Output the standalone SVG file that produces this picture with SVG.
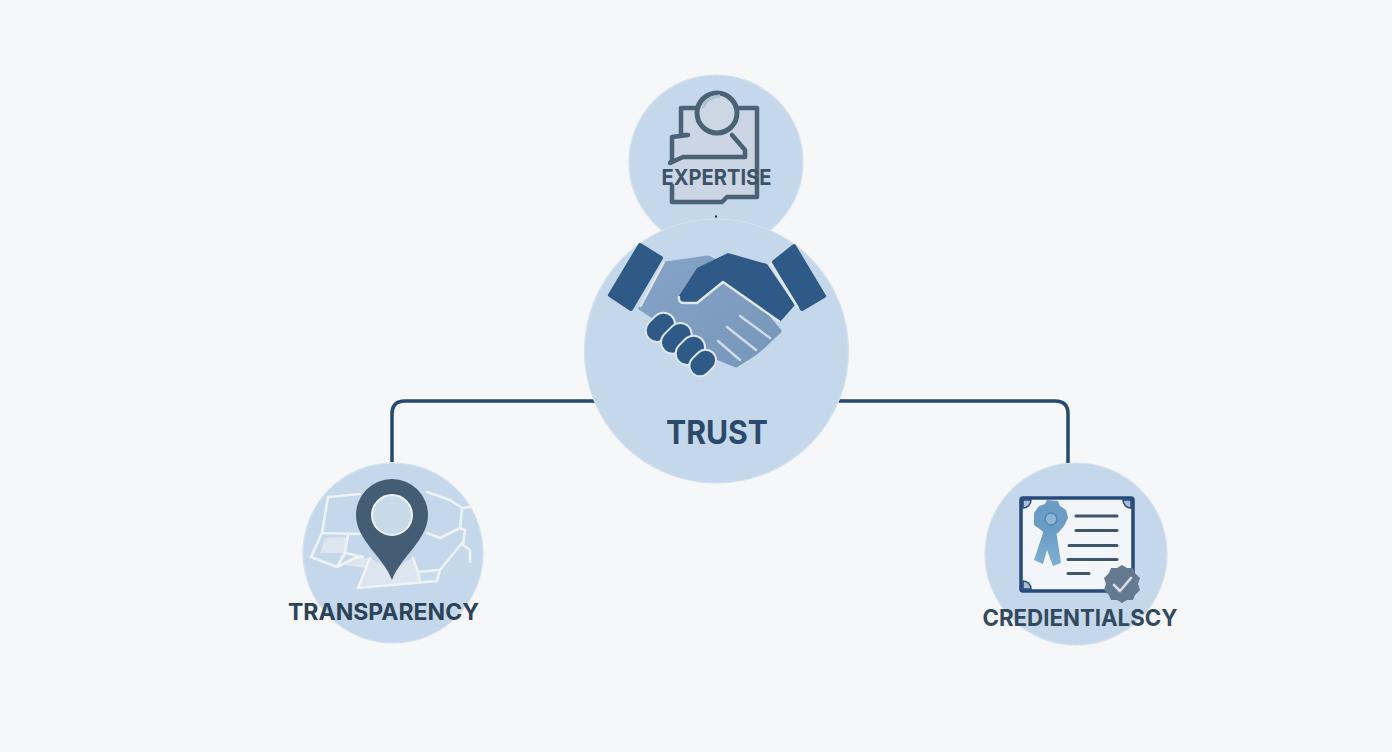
<svg xmlns="http://www.w3.org/2000/svg" width="1392" height="752" viewBox="0 0 1392 752">
<style>
.c{fill:#c5d7ea;stroke:#d3e0ed;stroke-width:1.2}
.t{font-family:Inter,"Liberation Sans",sans-serif;font-weight:700;text-anchor:middle}
.ic{fill:none;stroke:#4a6276;stroke-width:4.500;stroke-linecap:round;stroke-linejoin:round}
.m{fill:none;stroke:#eef3f8;stroke-width:2.600;stroke-linejoin:round;stroke-linecap:round}
.f{fill:#2f5a88;stroke:#dbe6f0;stroke-width:2}
.cuff{fill:#2f5a88;stroke:#2f5a88;stroke-width:4;stroke-linejoin:round}
.l{stroke:#3f556c;stroke-width:3;stroke-linecap:round}
</style>
<defs>
<linearGradient id="lh" x1="0" y1="0" x2="1" y2="1"><stop offset="0" stop-color="#85a3c6"/><stop offset="1" stop-color="#7797ba"/></linearGradient>
<linearGradient id="rb" x1="0" y1="0" x2="0" y2="1"><stop offset="0" stop-color="#6c9cc4"/><stop offset="1" stop-color="#7fb0d2"/></linearGradient>
</defs>
<rect width="1392" height="752" fill="#f6f7f9"/>
<g id="connectors" fill="none" stroke="#25496f" stroke-width="3.500">
<path d="M596,401H405Q392,401 392,414V462"/>
<path d="M838,401H1055Q1068,401 1068,414V463"/>
</g>
<g id="expertise">
<circle class="c" cx="716" cy="162" r="87"/>
<path d="M681,108H757V197H727L722,202H672V150L672,137L681,135Z" fill="#ccd5e3"/>
<path class="ic" d="M697,108H681V135H688L672,137V160L670,163L683,157H745V150L732,135"/>
<path class="ic" d="M738,108H757V197H727L722,202H672V186"/>
<circle cx="717" cy="113" r="20" fill="#cdd7e4" stroke="#4a6276" stroke-width="5"/>
<path d="M703,108Q706,97 720,96" fill="none" stroke="#a9c3d3" stroke-width="3"/>
<text class="t" x="716.500" y="185" font-size="22" textLength="110" lengthAdjust="spacingAndGlyphs" fill="#3b5268">EXPERTISE</text>
<rect x="715" y="215.500" width="2" height="2" fill="#1f2f40"/>
</g>
<g id="trust">
<circle class="c" cx="716.500" cy="351" r="132"/>
<path d="M666,264L708,258L724,266L779,331L762,347L752,355L736,365L714,356L641,308Z" fill="url(#lh)" stroke="url(#lh)" stroke-width="5" stroke-linejoin="round"/>
<path class="cuff" d="M640,245L661,258L631,309L610,295Z"/>
<path class="cuff" d="M794,246L824,296L802,309L774,262Z"/>
<path d="M728,253L767,264L795,305L780,322L723,282L697,303H684Q678,303 679,296L697,268Z" fill="#2f5a88"/>
<path d="M780,322L723,282L697,303H684Q678,303 679,296" fill="none" stroke="#dfe8f1" stroke-width="2.400" stroke-linejoin="round"/>
<path d="M664,262L640,307M770,263L798,308" stroke="#dfe8f1" stroke-width="2.400" fill="none"/>
<rect class="f" x="644" y="316" width="32" height="23" rx="11.500" transform="rotate(-45 660 327)"/>
<rect class="f" x="659" y="327" width="34" height="23" rx="11.500" transform="rotate(-45 676 338)"/>
<rect class="f" x="674" y="339" width="32" height="23" rx="11.500" transform="rotate(-45 690 350)"/>
<rect class="f" x="688" y="353" width="29" height="21" rx="10.500" transform="rotate(-45 702 363)"/>
<path d="M740,316L770,338M727,327L756,350M718,341L740,360" stroke="#cfdcea" stroke-width="2.400" stroke-linecap="round"/>
<text class="t" x="717" y="444" font-size="32" textLength="102" lengthAdjust="spacingAndGlyphs" fill="#2b4a6b">TRUST</text>
</g>
<g id="transparency">
<circle class="c" cx="393" cy="553" r="90"/>
<path d="M325,538L348,537L345,553L320,553ZM345,565L355,558L370,558L365,568ZM370,558L358,588L420,583L418,572L413,558L392,570Z" fill="#dde5ee"/>
<path d="M418,572L438,570L437,581L420,583Z" fill="#c9dcec"/>
<path class="m" d="M360,494L328,497L322,533L311,557L337,567M322,533L360,534M348,534L345,553L337,567L355,558L363,557M345,553L363,557M370,558L358,588L437,581L440,570L462,543M413,558L418,572L438,570M418,572L420,583M427,492L450,500L462,508L470,507M462,508L460,528L440,538L427,533M460,528L465,530L463,545L470,550L470,562"/>
<path d="M392,580C383,556 356,540 356,515A36,36 0 0 1 428,515C428,540 401,556 392,580Z" fill="#455d74"/>
<circle cx="392" cy="515" r="20" fill="#c8d9ea" stroke="#eef3f8" stroke-width="2"/>
<text class="t" x="383.500" y="620" font-size="23" textLength="191" lengthAdjust="spacingAndGlyphs" fill="#2b4358">TRANSPARENCY</text>
</g>
<g id="credentials">
<circle class="c" cx="1076" cy="554" r="91"/>
<rect x="1021" y="498" width="112" height="93" rx="2" fill="#f2f5f9" stroke="#264a7c" stroke-width="3.500"/>
<path d="M1023,500H1031A8,8 0 0 1 1023,508ZM1131,500V508A8,8 0 0 1 1123,500ZM1023,589V581A8,8 0 0 1 1031,589Z" fill="#a9bed4" stroke="#264a7c" stroke-width="1.500"/>
<path d="M1044,530L1034,560L1043,564L1047,550L1053,566L1061,563L1056,530Z" fill="url(#rb)"/>
<path d="M1047,500L1058,501L1060,506L1066,510L1068,518L1064,526L1058,533L1048,536L1041,530L1034,525L1034,513L1039,506L1045,504Z" fill="#6b9cc4"/>
<circle cx="1051" cy="519" r="6" fill="#8fb6d4" stroke="#4f86b3" stroke-width="1.500"/>
<path class="l" d="M1076,516H1117M1076,530.500H1117M1069,545.500H1117M1068,559.500H1117M1068,573.500H1089" fill="none"/>
<path d="M1122,565L1127,568L1133,568L1135,573L1140,578L1138,584L1140,590L1135,595L1133,600L1127,600L1122,603L1117,600L1111,600L1109,595L1104,590L1106,584L1104,578L1109,573L1111,568L1117,568Z" fill="#647a90"/>
<path d="M1114,585L1120,591L1131,578" fill="none" stroke="#d6dfe8" stroke-width="2.600" stroke-linecap="round" stroke-linejoin="round"/>
<text class="t" x="1080" y="626" font-size="23" textLength="195" lengthAdjust="spacingAndGlyphs" fill="#33495d">CREDIENTIALSCY</text>
</g>
</svg>
